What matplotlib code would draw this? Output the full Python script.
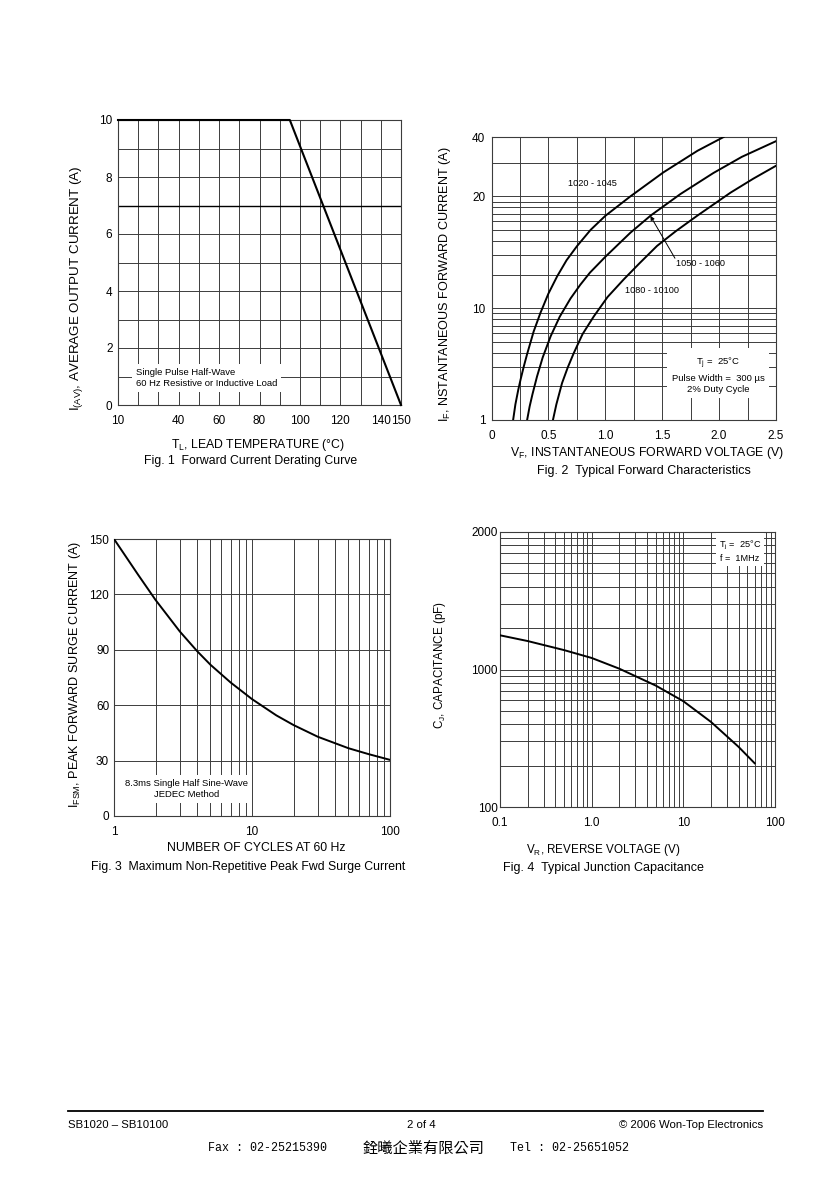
import numpy as np
import matplotlib
matplotlib.use('Agg')
from matplotlib import pyplot as plt
from matplotlib.ticker import FixedLocator, FixedFormatter, NullFormatter

plt.rcParams['font.family'] = ['Liberation Sans', 'DejaVu Sans']
plt.rcParams['mathtext.fontset'] = 'custom'
plt.rcParams['mathtext.rm'] = 'Liberation Sans'
plt.rcParams['mathtext.it'] = 'Liberation Sans:italic'

# Fig. 1 derating curve
temp_c = [10, 95, 150]
iav_a = [10, 10, 0]
fig1_xticks = [10, 40, 60, 80, 100, 120, 140, 150]

# Fig. 2 forward characteristics (values on the printed log grid)
vf_1020 = [0.19, 0.21, 0.235, 0.255, 0.283, 0.313, 0.37, 0.43, 0.50, 0.577, 0.66, 0.752, 0.87, 1.0, 1.22, 1.51, 1.81, 2.04]
if_1020 = [1, 1.38, 1.86, 2.29, 2.99, 3.89, 6.17, 9.08, 13.5, 19.3, 26.9, 36.0, 50.1, 67.0, 100, 164, 256, 340]
vf_1050 = [0.313, 0.335, 0.36, 0.40, 0.45, 0.52, 0.60, 0.694, 0.78, 0.865, 1.0, 1.22, 1.40, 1.66, 1.95, 2.2, 2.5]
if_1050 = [1, 1.32, 1.70, 2.45, 3.63, 5.62, 8.41, 12.2, 16.2, 20.8, 28.8, 47.3, 67.6, 105, 162, 226, 312]
vf_1080 = [0.54, 0.57, 0.62, 0.67, 0.723, 0.80, 0.899, 1.02, 1.162, 1.30, 1.455, 1.62, 1.806, 2.1, 2.3, 2.5]
if_1080 = [1, 1.38, 2.14, 2.95, 3.97, 5.86, 8.45, 12.6, 18.1, 25.2, 36.1, 48.9, 67.0, 108, 144, 188]
fig2_yticks = [1, 10, 100, 340]
fig2_ylabels = ['1', '10', '20', '40']
fig2_xticks = [0, 0.5, 1.0, 1.5, 2.0, 2.5]
fig2_xlabels = ['0', '0.5', '1.0', '1.5', '2.0', '2.5']

# Fig. 3 surge current
cycles = [1, 1.5, 2, 3, 4, 5, 7, 10, 15, 20, 30, 50, 70, 100]
ifsm_a = [150, 130.5, 117, 99.9, 89.3, 81.9, 72.3, 63.3, 54.5, 49.25, 42.9, 36.7, 33.5, 30.4]

# Fig. 4 junction capacitance (values on the printed log grid)
vr_v = [0.1, 0.2, 0.5, 1.0, 2.0, 5.0, 10, 20, 40, 60]
cj_pf = [1773, 1611, 1384, 1213, 1014, 764, 588, 416, 274, 208]
fig4_yticks = [100, 1000, 10000]
fig4_ylabels = ['100', '1000', '2000']
fig4_xticks = [0.1, 1, 10, 100]
fig4_xlabels = ['0.1', '1.0', '10', '100']

W, H = 840, 1189
gc = '#3c3c3c'
TICK = 8.5
LAB = 8.8


def box(l, t, r, b):
    return [l / W, 1 - b / H, (r - l) / W, (b - t) / H]


def ftext(x, y, s, **kw):
    fig.text(x / W, 1 - y / H, s, **kw)


def style(ax, xpad, ypad):
    ax.tick_params(which='both', length=0, labelsize=TICK)
    ax.tick_params(axis='x', pad=xpad)
    ax.tick_params(axis='y', pad=ypad)
    for s in ax.spines.values():
        s.set_color(gc)
        s.set_linewidth(0.8)
    ax.grid(which='both', color=gc, lw=0.7)
    ax.set_axisbelow(True)


fig = plt.figure(figsize=(8.4, 11.89), dpi=100)

# ---- Fig 1
ax1 = fig.add_axes(box(118, 120, 401, 405))
ax1.plot(temp_c, iav_a, color='black', lw=1.5, clip_on=False, zorder=3)
ax1.axhline(7, color='black', lw=1.0, zorder=2)
ax1.set_xlim(10, 150)
ax1.set_ylim(0, 10)
ax1.set_xticks(fig1_xticks)
ax1.set_xticks(np.arange(10, 151, 10), minor=True)
ax1.set_yticks(np.arange(0, 11, 2))
ax1.set_yticks(np.arange(0, 11, 1), minor=True)
style(ax1, 7.5, 4)
ax1.text(0.064, 0.095, 'Single Pulse Half-Wave\n60 Hz Resistive or Inductive Load',
         transform=ax1.transAxes, fontsize=6.8, ha='left', va='center', linespacing=1.25,
         bbox=dict(boxstyle='square,pad=0.4', fc='white', ec='none'), zorder=4)
ftext(77, 288, r'I$_{\mathrm{(AV)}}$, AVERAGE OUTPUT CURRENT (A)', rotation=90,
      ha='center', va='center', fontsize=9.6)
ftext(258, 445, r'T$_{\mathrm{L}}$, LEAD TEMPERATURE (°C)', ha='center', va='center', fontsize=LAB)
ftext(251, 461, 'Fig. 1  Forward Current Derating Curve', ha='center', va='center', fontsize=LAB)

# ---- Fig 2
ax2 = fig.add_axes(box(491.5, 137, 776, 420))
ax2.set_yscale('log')
for v, i in [(vf_1020, if_1020), (vf_1050, if_1050), (vf_1080, if_1080)]:
    ax2.plot(v, i, color='black', lw=1.4, zorder=3)
ax2.set_xlim(0, 2.5)
ax2.set_ylim(1, 340)
ax2.yaxis.set_major_locator(FixedLocator(fig2_yticks))
ax2.yaxis.set_major_formatter(FixedFormatter(fig2_ylabels))
ax2.yaxis.set_minor_locator(FixedLocator([2, 3, 4, 5, 6, 7, 8, 9, 20, 30, 40, 50, 60, 70, 80, 90, 200]))
ax2.yaxis.set_minor_formatter(NullFormatter())
ax2.set_xticks(fig2_xticks, fig2_xlabels)
ax2.set_xticks(np.arange(0, 2.51, 0.25), minor=True)
style(ax2, 7.5, 4.5)
ax2.text(0.891, 130, '1020 - 1045', fontsize=6.6, ha='center', va='center', zorder=4)
ax2.text(1.84, 25, '1050 - 1060', fontsize=6.6, ha='center', va='center', zorder=4)
ax2.text(1.41, 14.5, '1080 - 10100', fontsize=6.6, ha='center', va='center', zorder=4)
ax2.annotate('', xy=(1.396, 67), xytext=(1.612, 28),
             arrowprops=dict(arrowstyle='-|>', color='black', lw=0.7, mutation_scale=6,
                             shrinkA=0, shrinkB=0), zorder=4)
ax2.text(0.796, 0.159, 'T$_{\\mathrm{j}}$ =  25°C\nPulse Width =  300 µs\n2% Duty Cycle',
         transform=ax2.transAxes, fontsize=6.8, ha='center', va='center', linespacing=1.3,
         bbox=dict(boxstyle='square,pad=0.5', fc='white', ec='none'), zorder=4)
ftext(445, 284, r'I$_{\mathrm{F}}$, NSTANTANEOUS FORWARD CURRENT (A)', rotation=90,
      ha='center', va='center', fontsize=9.1)
ftext(647, 453, r'V$_{\mathrm{F}}$, INSTANTANEOUS FORWARD VOLTAGE (V)', ha='center', va='center', fontsize=LAB)
ftext(644, 471, 'Fig. 2  Typical Forward Characteristics', ha='center', va='center', fontsize=9.0)

# ---- Fig 3
ax3 = fig.add_axes(box(114, 539, 390, 816))
ax3.set_xscale('log')
ax3.plot(cycles, ifsm_a, color='black', lw=1.4, zorder=3)
ax3.set_xlim(1, 100)
ax3.set_ylim(0, 150)
ax3.set_xticks([1, 10, 100], ['1', '10', '100'])
ax3.xaxis.set_minor_formatter(NullFormatter())
ax3.set_yticks(np.arange(0, 151, 30))
style(ax3, 7.5, 3.5)
ax3.text(0.264, 0.097, '8.3ms Single Half Sine-Wave\nJEDEC Method',
         transform=ax3.transAxes, fontsize=6.8, ha='center', va='center', linespacing=1.25,
         bbox=dict(boxstyle='square,pad=0.4', fc='white', ec='none'), zorder=4)
ftext(75, 674, r'I$_{\mathrm{FSM}}$, PEAK FORWARD SURGE CURRENT (A)', rotation=90,
      ha='center', va='center', fontsize=9.1)
ftext(256, 848, 'NUMBER OF CYCLES AT 60 Hz', ha='center', va='center', fontsize=LAB)
ftext(248, 867, 'Fig. 3  Maximum Non-Repetitive Peak Fwd Surge Current', ha='center', va='center', fontsize=LAB)

# ---- Fig 4
ax4 = fig.add_axes(box(500, 532, 775, 807))
ax4.set_xscale('log')
ax4.set_yscale('log')
ax4.plot(vr_v, cj_pf, color='black', lw=1.4, zorder=3)
ax4.set_xlim(0.1, 100)
ax4.set_ylim(100, 10000)
ax4.yaxis.set_major_locator(FixedLocator(fig4_yticks))
ax4.yaxis.set_major_formatter(FixedFormatter(fig4_ylabels))
ax4.yaxis.set_minor_formatter(NullFormatter())
ax4.xaxis.set_major_locator(FixedLocator(fig4_xticks))
ax4.xaxis.set_major_formatter(FixedFormatter(fig4_xlabels))
ax4.xaxis.set_minor_formatter(NullFormatter())
style(ax4, 7.5, 1.5)
ax4.text(0.873, 0.931, 'T$_{\\mathrm{j}}$ =  25°C\nf =  1MHz',
         transform=ax4.transAxes, fontsize=6.6, ha='center', va='center', linespacing=1.3,
         bbox=dict(boxstyle='square,pad=0.35', fc='white', ec='none'), zorder=4)
ftext(440, 665, r'C$_{\mathrm{J}}$, CAPACITANCE (pF)', rotation=90, ha='center', va='center', fontsize=8.4)
ftext(603, 850, r'V$_{\mathrm{R}}$, REVERSE VOLTAGE (V)', ha='center', va='center', fontsize=8.4)
ftext(603, 868, 'Fig. 4  Typical Junction Capacitance', ha='center', va='center', fontsize=9.0)

# ---- footer
fig.add_artist(plt.Line2D([68 / W, 763 / W], [1 - 1111 / H, 1 - 1111 / H], color='black', lw=1.3))
ftext(68, 1125, 'SB1020 – SB10100', ha='left', va='center', fontsize=8.2)
ftext(421, 1125, '2 of 4', ha='center', va='center', fontsize=8.2)
ftext(763, 1125, '© 2006 Won-Top Electronics', ha='right', va='center', fontsize=8.2)
ftext(208, 1148, 'Fax : 02-25215390', ha='left', va='center', fontsize=8.4, family=['Liberation Mono', 'DejaVu Sans'])
ftext(363, 1148, '銓曦企業有限公司', ha='left', va='center', fontsize=11,
      family=['Noto Sans CJK TC', 'DejaVu Sans'])
ftext(510, 1148, 'Tel : 02-25651052', ha='left', va='center', fontsize=8.4, family=['Liberation Mono', 'DejaVu Sans'])

fig.savefig('out.png', dpi=100, facecolor='white')
